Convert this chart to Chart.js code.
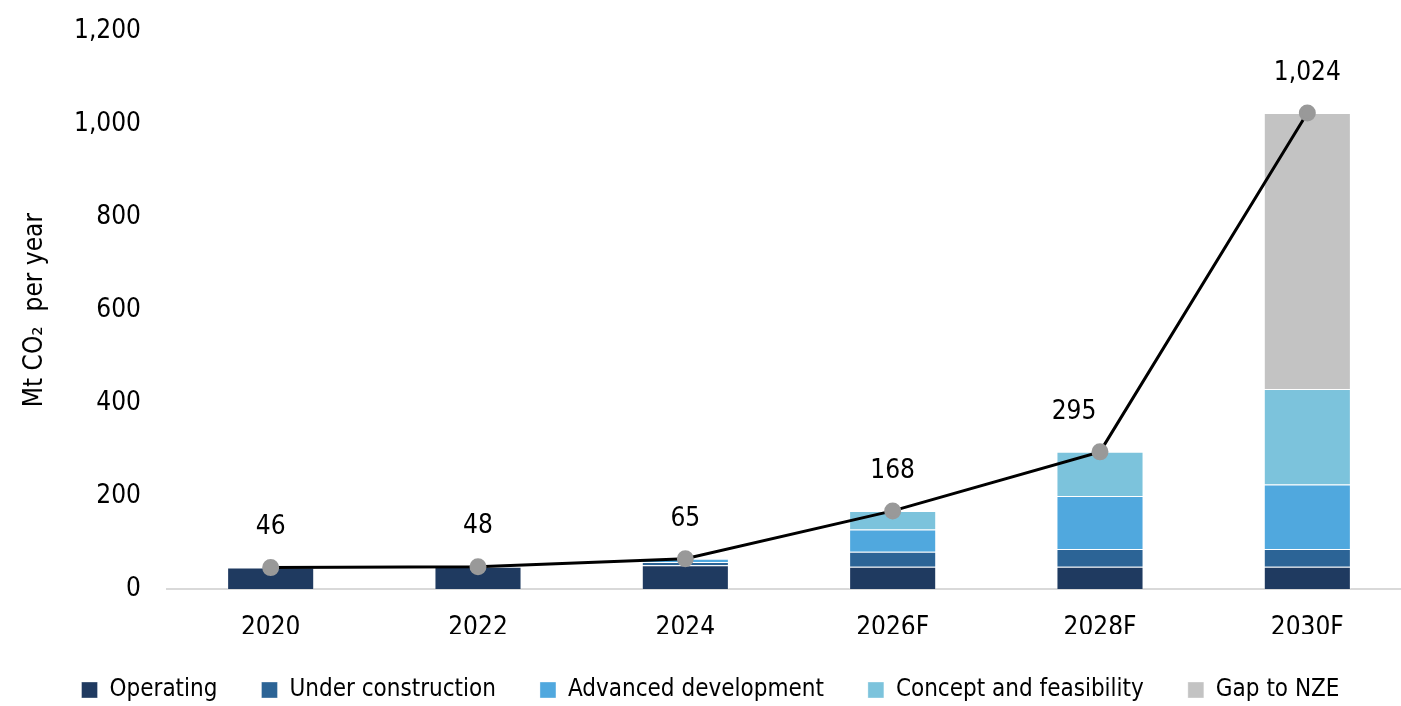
<!DOCTYPE html>
<html>
<head>
<meta charset="utf-8">
<script src="https://cdn.jsdelivr.net/npm/chart.js@4"></script>
<style>
  html, body { margin: 0; padding: 0; background: #fff; overflow: hidden; }
  #wrap { width: 1421px; height: 706px; }
</style>
</head>
<body>
<div id="wrap"><canvas id="chart"></canvas></div>
<script>
/*********************************
 DATA
*********************************/
const years = ["2020", "2022", "2024", "2026F", "2028F", "2030F"];
const operating = [46, 48, 51, 48, 48, 48];
const underConstruction = [0, 0, 7, 32, 38, 38];
const advancedDev = [0, 0, 7, 48, 114, 139];
const conceptFeas = [0, 0, 0, 40, 95, 205];
const gapToNze = [0, 0, 0, 0, 0, 594];
const totals = [46, 48, 65, 168, 295, 1024];
const yTicks = [0, 200, 400, 600, 800, 1000, 1200];

/*********************************
 STYLE
*********************************/
const FONT = "'Liberation Sans Narrow', 'DejaVu Sans Condensed', 'Roboto', sans-serif";
const COLORS = ["#1f3a60", "#2c6496", "#50a8de", "#7cc3dc", "#c3c3c3"];
const labelShiftX = [0, 0, 0, 0, -26, 0];   // nudge "295" off the line

Chart.defaults.font.family = FONT;
Chart.defaults.color = "#000";

function barSet(label, data, color) {
  return {
    type: "bar",
    label: label,
    data: data,
    backgroundColor: color,
    borderColor: "rgba(255,255,255,0.35)",
    borderWidth: 1,
    stack: "cap",
    order: 1,
    barPercentage: 0.42,
    categoryPercentage: 1
  };
}

// labels above the total line
const totalLabels = {
  id: "totalLabels",
  afterDatasetsDraw(chart) {
    const ctx = chart.ctx;
    const meta = chart.getDatasetMeta(5);
    ctx.save();
    ctx.font = "26px " + FONT;
    ctx.fillStyle = "#000";
    ctx.textAlign = "center";
    ctx.textBaseline = "middle";
    meta.data.forEach((pt, i) => {
      ctx.fillText(totals[i].toLocaleString("en-US"), pt.x + labelShiftX[i], pt.y - 40);
    });
    ctx.restore();
  }
};

new Chart(document.getElementById("chart"), {
  data: {
    labels: years,
    datasets: [
      barSet("Operating", operating, COLORS[0]),
      barSet("Under construction", underConstruction, COLORS[1]),
      barSet("Advanced development", advancedDev, COLORS[2]),
      barSet("Concept and feasibility", conceptFeas, COLORS[3]),
      barSet("Gap to NZE", gapToNze, COLORS[4]),
      {
        type: "line",
        label: "Total",
        data: totals,
        borderColor: "#000",
        borderWidth: 3,
        pointBackgroundColor: "#999",
        pointBorderColor: "#999",
        pointRadius: 7,
        tension: 0,
        stack: "total",
        order: 0
      }
    ]
  },
  options: {
    responsive: true,
    maintainAspectRatio: false,
    animation: false,
    layout: { padding: { top: 0, right: 0, bottom: -6, left: 0 } },
    plugins: {
      tooltip: { enabled: false },
      legend: {
        position: "bottom",
        align: "center",
        labels: {
          filter: item => item.datasetIndex < 5,
          boxWidth: 16,
          boxHeight: 16,
          padding: 44,
          font: { size: 24 },
          color: "#000"
        }
      }
    },
    scales: {
      x: {
        stacked: true,
        afterFit: axis => { axis.height = 45; },
        grid: { display: false, drawTicks: false },
        border: { display: true, color: "#d9d9d9", width: 2 },
        ticks: { font: { size: 26 }, padding: 24, color: "#000" }
      },
      y: {
        stacked: true,
        min: 0,
        max: 1200,
        afterBuildTicks: axis => { axis.ticks = yTicks.map(v => ({ value: v })); },
        afterFit: axis => { axis.width = 167; },
        grid: { display: false, drawTicks: false },
        border: { display: false },
        ticks: {
          font: { size: 26, lineHeight: 0.4 },
          padding: 26,
          color: "#000",
          callback: v => v.toLocaleString("en-US")
        },
        title: {
          display: true,
          text: "Mt CO\u2082  per year",
          font: { size: 26 },
          color: "#000",
          padding: { top: 20, bottom: 10 }
        }
      }
    }
  },
  plugins: [totalLabels]
});
</script>
</body>
</html>
